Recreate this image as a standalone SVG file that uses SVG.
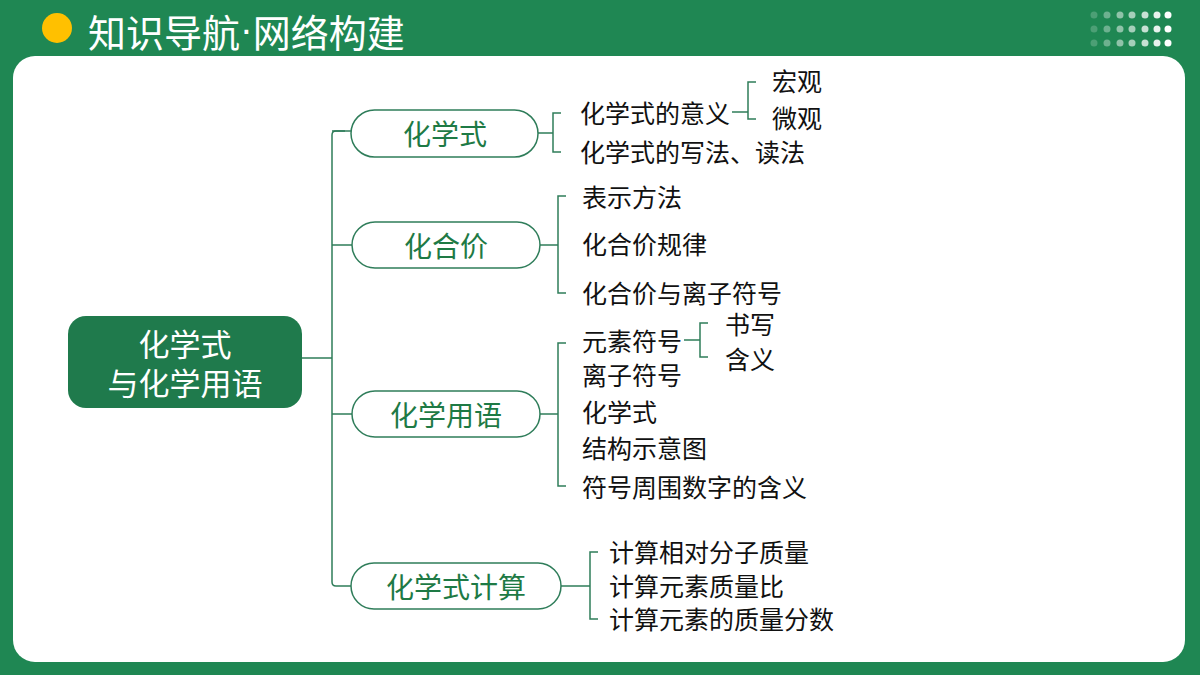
<svg xmlns="http://www.w3.org/2000/svg" width="1200" height="675" viewBox="0 0 1200 675">
<style>
text{font-family:"Noto Sans CJK SC","Noto Sans",sans-serif}
.t{font-size:25px;fill:#111;dominant-baseline:central}
.p{fill:#fff;stroke:#2f7d5a;stroke-width:1.5}
.pt{font-size:28px;fill:#1e7a45;text-anchor:middle;dominant-baseline:central}
.c{fill:none;stroke:#2f7d5a;stroke-width:1.5}
.d{fill:#fff}
</style>
<rect width="1200" height="675" fill="#1f8753"/>
<circle cx="57" cy="28" r="15" fill="#ffc000"/>
<text x="88" y="30" font-size="38" fill="#fff" dominant-baseline="central">知识导航<tspan font-family="Liberation Sans">·</tspan>网络构建</text>
<g class="d">
<g opacity="0.2"><circle cx="1094" cy="15" r="3.5"/><circle cx="1094" cy="29" r="3.5"/><circle cx="1094" cy="43" r="3.5"/></g>
<g opacity="0.35"><circle cx="1107" cy="15" r="3.5"/><circle cx="1107" cy="29" r="3.5"/><circle cx="1107" cy="43" r="3.5"/></g>
<g opacity="0.5"><circle cx="1120" cy="15" r="3.5"/><circle cx="1120" cy="29" r="3.5"/><circle cx="1120" cy="43" r="3.5"/></g>
<g opacity="0.6"><circle cx="1132" cy="15" r="3.5"/><circle cx="1132" cy="29" r="3.5"/><circle cx="1132" cy="43" r="3.5"/></g>
<g opacity="0.75"><circle cx="1145" cy="15" r="3.5"/><circle cx="1145" cy="29" r="3.5"/><circle cx="1145" cy="43" r="3.5"/></g>
<g opacity="0.9"><circle cx="1157" cy="15" r="3.5"/><circle cx="1157" cy="29" r="3.5"/><circle cx="1157" cy="43" r="3.5"/></g>
<g><circle cx="1168" cy="15" r="3.5"/><circle cx="1168" cy="29" r="3.5"/><circle cx="1168" cy="43" r="3.5"/></g>
</g>
<rect x="13" y="56" width="1172" height="606" rx="22" fill="#fff"/>
<g id="connectors" class="c">
<path d="M302 358H332M345 131H336Q332 131 332 135V582Q332 586 336 586H351M332 245H352M332 414H352"/>
<path d="M538 133H553M561 113H553V152H561"/>
<path d="M732 112H748M756 82H748V119H756"/>
<path d="M540 245H558M566 196H558V293H566"/>
<path d="M540 414H558M566 343H558V486H566"/>
<path d="M684 340H700M708 323H700V357H708"/>
<path d="M561 586H590M598 552H590V619H598"/>
<path d="M332 131H351"/>
</g>
<g id="root"><rect x="68" y="316" width="234" height="92" rx="18" fill="#1f7a4c"/>
<text x="185" y="342" font-size="31" fill="#fff" text-anchor="middle" dominant-baseline="central">化学式</text>
<text x="185" y="381" font-size="31" fill="#fff" text-anchor="middle" dominant-baseline="central">与化学用语</text></g>
<g id="n1"><rect class="p" x="351" y="110" width="187" height="47" rx="23.5"/><text class="pt" x="445" y="133">化学式</text></g>
<g id="n2"><rect class="p" x="352" y="222" width="188" height="46" rx="23"/><text class="pt" x="446" y="245">化合价</text></g>
<g id="n3"><rect class="p" x="352" y="391" width="188" height="46" rx="23"/><text class="pt" x="446" y="414">化学用语</text></g>
<g id="n4"><rect class="p" x="351" y="563" width="210" height="46" rx="23"/><text class="pt" x="456" y="586">化学式计算</text></g>
<g id="leaves">
<text class="t" x="580" y="112">化学式的意义</text>
<text class="t" x="580" y="151">化学式的写法、读法</text>
<text class="t" x="772" y="80">宏观</text>
<text class="t" x="772" y="117">微观</text>
<text class="t" x="582" y="196">表示方法</text>
<text class="t" x="582" y="243">化合价规律</text>
<text class="t" x="582" y="292">化合价与离子符号</text>
<text class="t" x="582" y="340">元素符号</text>
<text class="t" x="582" y="374">离子符号</text>
<text class="t" x="582" y="411">化学式</text>
<text class="t" x="582" y="447">结构示意图</text>
<text class="t" x="582" y="486">符号周围数字的含义</text>
<text class="t" x="725" y="323">书写</text>
<text class="t" x="725" y="358">含义</text>
<text class="t" x="609" y="551">计算相对分子质量</text>
<text class="t" x="609" y="585">计算元素质量比</text>
<text class="t" x="609" y="618">计算元素的质量分数</text>
</g>
</svg>
